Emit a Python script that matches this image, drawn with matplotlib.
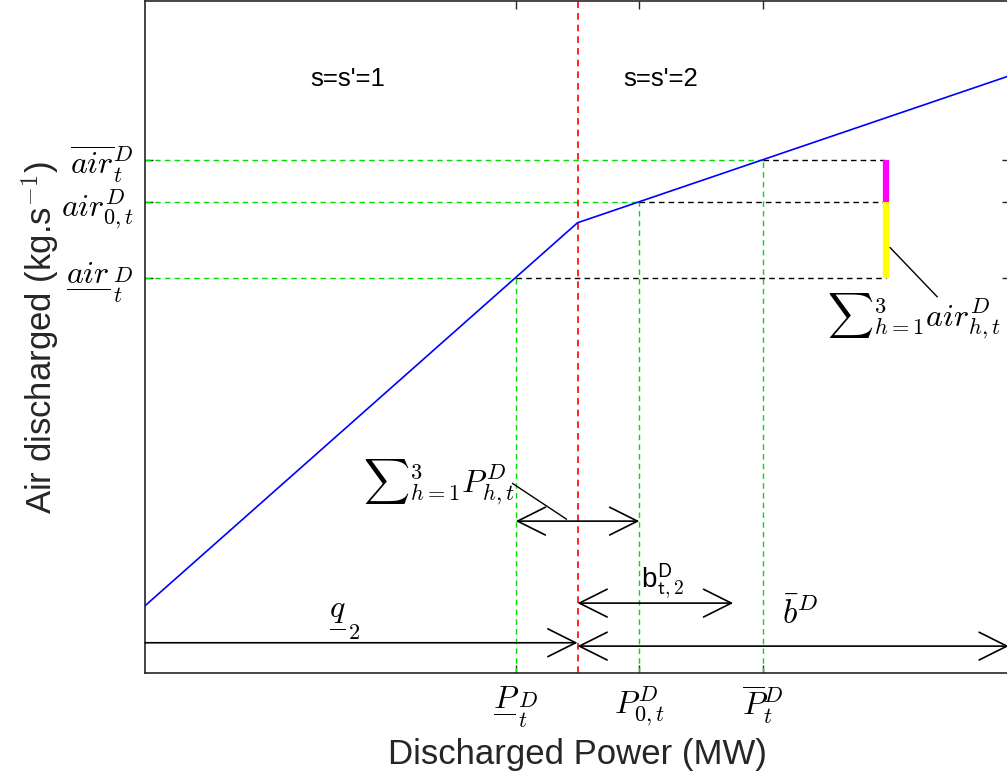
import matplotlib
matplotlib.use("Agg")
import matplotlib.pyplot as plt

plt.rcParams['font.family'] = ['Liberation Sans', 'DejaVu Sans']
plt.rcParams['mathtext.fontset'] = 'cm'

# Piecewise-linear characteristic (power vs air)
curve_x = [0, 7, 14]
curve_y = [10, 67, 88.9]

# Key operating points
p_levels = [6, 8, 10]            # P_min, P_0, P_max
air_levels = [58.8, 70.1, 76.4]  # air_min, air_0, air_max
breakpoint_x = 7
bar_x = 12

xtick_labels = [r'${\dfrac{P}{\,}}_t^D$', r'$P_{0,t}^D$', r'$\overline{P}_t^D$']
ytick_labels = [r'${\dfrac{air}{\,}}_t^D$', r'$air_{0,t}^D$', r'$\overline{air}_t^D$']

fig = plt.figure(figsize=(10.07, 7.82), dpi=100)
ax = fig.add_axes([145 / 1007, 109 / 782, 865 / 1007, 672 / 782])

ax.plot(curve_x, curve_y, color='#0000FF', lw=1.2, zorder=4)

# guide lines
for px, ay in zip(p_levels, air_levels):
    ax.plot([0, px], [ay, ay], color='#00E000', ls=(0, (4, 3)), lw=1.0)
    ax.plot([px, px], [0, ay], color='#00E000', ls=(0, (4, 3)), lw=1.0)
    ax.plot([px, bar_x], [ay, ay], color='black', ls=(0, (4, 3)), lw=1.0)

ax.axvline(breakpoint_x, color='#FF0000', ls=(0, (4, 3)), lw=1.2)

# stacked bar of air segments
ax.plot([bar_x, bar_x], [air_levels[1], air_levels[2]], color='#FF00FF', lw=4.5,
        solid_capstyle='butt')
ax.plot([bar_x, bar_x], [air_levels[0], air_levels[1]], color='#FFFF00', lw=4.5,
        solid_capstyle='butt')

ax.text(3.28, 88.4, "s=s'=1", fontsize=18.5, ha='center', va='center')
ax.text(8.35, 88.4, "s=s'=2", fontsize=18.5, ha='center', va='center')

# leader lines + labels
ax.plot([12.06, 12.82], [63.3, 56.0], color='black', lw=1.0)
ax.text(12.44, 53.0, r'${\sum}_{h=1}^{3}air_{h,t}^D$', fontsize=23, ha='center', va='center')
ax.plot([5.95, 6.82], [28.2, 22.9], color='black', lw=1.0)
ax.text(4.76, 28.4, r'${\sum}_{h=1}^{3}P_{h,t}^D$', fontsize=23, ha='center', va='center')

arrow = dict(arrowstyle='<->,head_length=1.0,head_width=0.5', lw=1.2, color='black',
             shrinkA=0, shrinkB=0, mutation_scale=20)
ax.annotate('', xy=(8, 22.6), xytext=(6, 22.6), arrowprops=arrow)
ax.annotate('', xy=(9.52, 10.4), xytext=(7, 10.4), arrowprops=arrow)
ax.annotate('', xy=(13.98, 4.0), xytext=(7, 4.0), arrowprops=arrow)
ax.annotate('', xy=(7, 4.5), xytext=(0, 4.5),
            arrowprops=dict(arrowstyle='->,head_length=1.0,head_width=0.5', lw=1.2,
                            color='black', shrinkA=0, shrinkB=0, mutation_scale=20))

ax.text(8.38, 13.6, r'b$_{\mathsf{t,2}}^{\mathsf{D}}$', fontsize=20, ha='center', va='center')
ax.text(3.24, 7.7, r'${\dfrac{q}{\,}}_2$', fontsize=23, ha='center', va='center')
ax.text(10.6, 8.8, r'$\bar{b}^D$', fontsize=24, ha='center', va='center')

ax.set_xlim(0, 14)
ax.set_ylim(0, 100)
ax.set_xticks(p_levels)
ax.set_xticklabels(xtick_labels, fontsize=23)
ax.set_yticks(air_levels)
ax.set_yticklabels(ytick_labels, fontsize=23)
ax.tick_params(direction='in', length=6, width=1.0, color='#262626',
               top=True, right=True, pad=8)
for s in ax.spines.values():
    s.set_color('#262626')
    s.set_linewidth(1.2)

ax.set_xlabel('Discharged Power (MW)', fontsize=25, color='#262626', labelpad=6)
ax.set_ylabel('Air discharged (kg.s$^{\\mathsf{-1}}$)', fontsize=25, color='#262626',
              labelpad=0)

fig.savefig('out.png', dpi=100)
